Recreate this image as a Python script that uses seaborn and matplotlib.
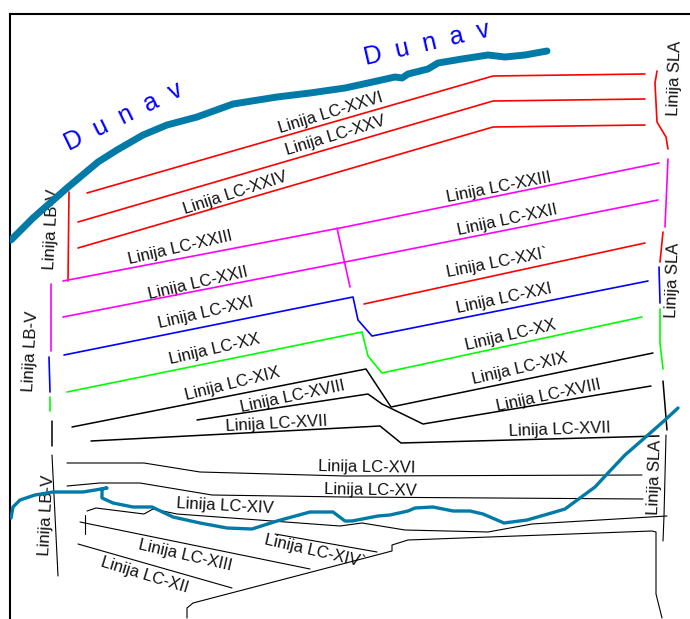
import matplotlib
matplotlib.use("Agg")
import matplotlib.pyplot as plt
import seaborn as sns

sns.set_style("white")
plt.rcParams["font.family"] = ["Liberation Sans", "DejaVu Sans"]

RED = "#ff0000"
MAGENTA = "#ff00ff"
BLUE = "#0000ff"
GREEN = "#00ff00"
BLACK = "#000000"
RIVER = "#007ba7"

# river
dunav_x = [11, 33, 67, 98, 117, 143, 167, 197, 233, 277, 310, 345, 368, 395, 402, 408, 428, 438, 462, 488, 505, 525, 547]
dunav_y = [240, 218, 188, 162, 150, 135, 125, 117, 104, 97, 93, 88, 83, 77, 78, 74, 69, 63, 59, 55, 57, 55, 51]
kanal_x = [11, 13, 20, 35, 53, 83, 107, 102, 102, 113, 133, 152, 173, 200, 227, 252, 277, 310, 333, 345, 352, 378, 390, 408, 415, 433, 453, 470, 483, 504, 527, 548, 565, 595, 608, 625, 648, 665, 678]
kanal_y = [518, 507, 500, 495, 492, 492, 488, 489, 498, 503, 507, 507, 517, 523, 528, 529, 521, 512, 512, 521, 521, 516, 515, 511, 508, 507, 511, 511, 514, 523, 520, 514, 509, 487, 473, 455, 435, 420, 408]

# lines LC
lc26_x = [87, 493, 645]
lc26_y = [193, 76, 74]
lc25_x = [78, 493, 645]
lc25_y = [222, 101, 99]
lc24_x = [78, 493, 645]
lc24_y = [248, 127, 125]
lc23_x = [63, 345, 659]
lc23_y = [281, 227, 163]
lc22_x = [63, 345, 658]
lc22_y = [317, 262, 200]
lc22b_x = [337, 350]
lc22b_y = [228, 287]
lc21p_x = [364, 645]
lc21p_y = [304, 243]
lc21_x = [64, 353, 358, 372, 648]
lc21_y = [355, 297, 320, 336, 281]
lc20_x = [67, 362, 368, 382, 642]
lc20_y = [392, 332, 356, 373, 317]
lc19_x = [72, 366, 391, 653]
lc19_y = [427, 369, 407, 353]
lc18_x = [197, 368, 382, 423, 651]
lc18_y = [420, 394, 404, 424, 386]
lc17_x = [91, 380, 401, 659]
lc17_y = [441, 426, 443, 436]
lc16_x = [67, 144, 200, 345, 642]
lc16_y = [463, 463, 472, 476, 475]
lc15_x = [67, 100, 140, 212, 345, 643]
lc15_y = [486, 483, 483, 495, 497, 499]
lc14_x = [87, 96, 144, 153, 177, 340, 362, 405, 488, 532, 667]
lc14_y = [511, 508, 514, 509, 514, 526, 523, 530, 532, 524, 516]
lc14p_x = [275, 377]
lc14p_y = [534, 552]
lc13_x = [80, 310]
lc13_y = [522, 569]
lc13t_x = [85, 85]
lc13t_y = [515, 534]
lc12_x = [78, 232]
lc12_y = [544, 588]
granica_x = [187, 187, 193, 392, 392, 408, 652, 656, 656, 662]
granica_y = [618, 608, 603, 551, 545, 540, 531, 532, 594, 618]

# lines LB-V
lb_red_x = [69, 68]
lb_red_y = [192, 281]
lb_mag_x = [51, 51]
lb_mag_y = [284, 351]
lb_blue_x = [49, 50]
lb_blue_y = [357, 392]
lb_green_x = [50, 50]
lb_green_y = [397, 411]
lb_blk1_x = [52, 52]
lb_blk1_y = [421, 446]
lb_blk2_x = [52, 58]
lb_blk2_y = [455, 576]

# lines SLA
sla_red1_x = [657, 655, 657, 666, 668]
sla_red1_y = [71, 83, 122, 137, 149]
sla_mag_x = [668, 665]
sla_mag_y = [159, 227]
sla_red2_x = [663, 660]
sla_red2_y = [232, 262]
sla_blue_x = [659, 660]
sla_blue_y = [267, 303]
sla_green_x = [660, 660, 663]
sla_green_y = [309, 343, 369]
sla_blk1_x = [663, 667]
sla_blk1_y = [381, 430]
sla_blk2_x = [666, 664, 663]
sla_blk2_y = [435, 516, 541]

labels = ["Linija LC-XXVI", "Linija LC-XXV", "Linija LC-XXIV", "Linija LC-XXIII", "Linija LC-XXII",
          "Linija LC-XXI", "Linija LC-XX", "Linija LC-XIX", "Linija LC-XVIII", "Linija LC-XVII",
          "Linija LC-XVI", "Linija LC-XV", "Linija LC-XIV", "Linija LC-XIII", "Linija LC-XII", "Linija LC-XIV`",
          "Linija LC-XXIII", "Linija LC-XXII", "Linija LC-XXI`", "Linija LC-XXI", "Linija LC-XX",
          "Linija LC-XIX", "Linija LC-XVIII", "Linija LC-XVII",
          "Linija LB-V", "Linija LB-V", "Linija LB-V", "Linija SLA", "Linija SLA", "Linija SLA"]
label_x = [331, 335, 235, 180, 198, 206, 214, 232, 293, 277, 367, 370, 225, 185, 145, 315,
           499, 507, 497, 504, 510, 520, 549, 560, 52, 31, 47, 675, 673, 655]
label_y = [113, 136, 193, 248, 283, 313, 349, 384, 397, 424, 467, 490, 506, 555, 575, 551,
           187, 220, 263, 299, 335, 369, 396, 430, 229, 351, 515, 78, 280, 477]
label_rot = [17, 17, 18, 13, 13, 13, 13, 14, 12, 3, -1, -1, -3, -13, -17, -13,
             11, 12, 11, 12, 13, 13, 12, 2, 87, 87, 87, 88, 88, 88]

fig = plt.figure(figsize=(6.9, 6.19), dpi=100)
ax = fig.add_axes([10 / 690, 0, 680 / 690, 605 / 619])


def draw(x, y, color, width=1.2):
    sns.lineplot(x=x, y=y, sort=False, estimator=None, color=color, linewidth=width, ax=ax, legend=False, zorder=3)
    ax.lines[-1].set_solid_joinstyle("round")


for x, y in [(lc26_x, lc26_y), (lc25_x, lc25_y), (lc24_x, lc24_y), (lc21p_x, lc21p_y), (lb_red_x, lb_red_y),
             (sla_red1_x, sla_red1_y), (sla_red2_x, sla_red2_y)]:
    draw(x, y, RED)
for x, y in [(lc23_x, lc23_y), (lc22_x, lc22_y), (lc22b_x, lc22b_y), (lb_mag_x, lb_mag_y), (sla_mag_x, sla_mag_y)]:
    draw(x, y, MAGENTA)
for x, y in [(lc21_x, lc21_y), (lb_blue_x, lb_blue_y), (sla_blue_x, sla_blue_y)]:
    draw(x, y, BLUE)
for x, y in [(lc20_x, lc20_y), (lb_green_x, lb_green_y), (sla_green_x, sla_green_y)]:
    draw(x, y, GREEN)
for x, y in [(lc19_x, lc19_y), (lc18_x, lc18_y), (lc17_x, lc17_y), (lb_blk1_x, lb_blk1_y), (sla_blk1_x, sla_blk1_y)]:
    draw(x, y, BLACK, 1.1)
for x, y in [(lc16_x, lc16_y), (lc15_x, lc15_y), (lc14_x, lc14_y), (lc14p_x, lc14p_y), (lc13_x, lc13_y),
             (lc13t_x, lc13t_y), (lc12_x, lc12_y), (granica_x, granica_y), (lb_blk2_x, lb_blk2_y),
             (sla_blk2_x, sla_blk2_y)]:
    draw(x, y, BLACK, 0.8)

draw(kanal_x, kanal_y, RIVER, 2.4)
draw(dunav_x, dunav_y, RIVER, 5)
ax.lines[-1].set_solid_capstyle("round")

for text, x, y, rot in zip(labels, label_x, label_y, label_rot):
    ax.text(x, y, text, rotation=rot, rotation_mode="anchor", ha="center", va="center",
            fontsize=12, color="#111111", zorder=1)

ax.text(124, 117, "D  u  n  a  v", rotation=26, rotation_mode="anchor", ha="center", va="center",
        fontsize=18, color=BLUE, zorder=1)
ax.text(427, 44, "D  u  n  a  v", rotation=13, rotation_mode="anchor", ha="center", va="center",
        fontsize=18, color=BLUE, zorder=1)

ax.set_xlim(10, 690)
ax.set_ylim(619, 14)
ax.set(xticks=[], yticks=[], xlabel="", ylabel="")
sns.despine(ax=ax, top=False, right=True, bottom=True)
ax.spines["left"].set_linewidth(1.5)
ax.spines["top"].set_linewidth(1.5)
ax.spines["left"].set_color("black")
ax.spines["top"].set_color("black")

fig.savefig("out.png", dpi=100)
plt.close(fig)
